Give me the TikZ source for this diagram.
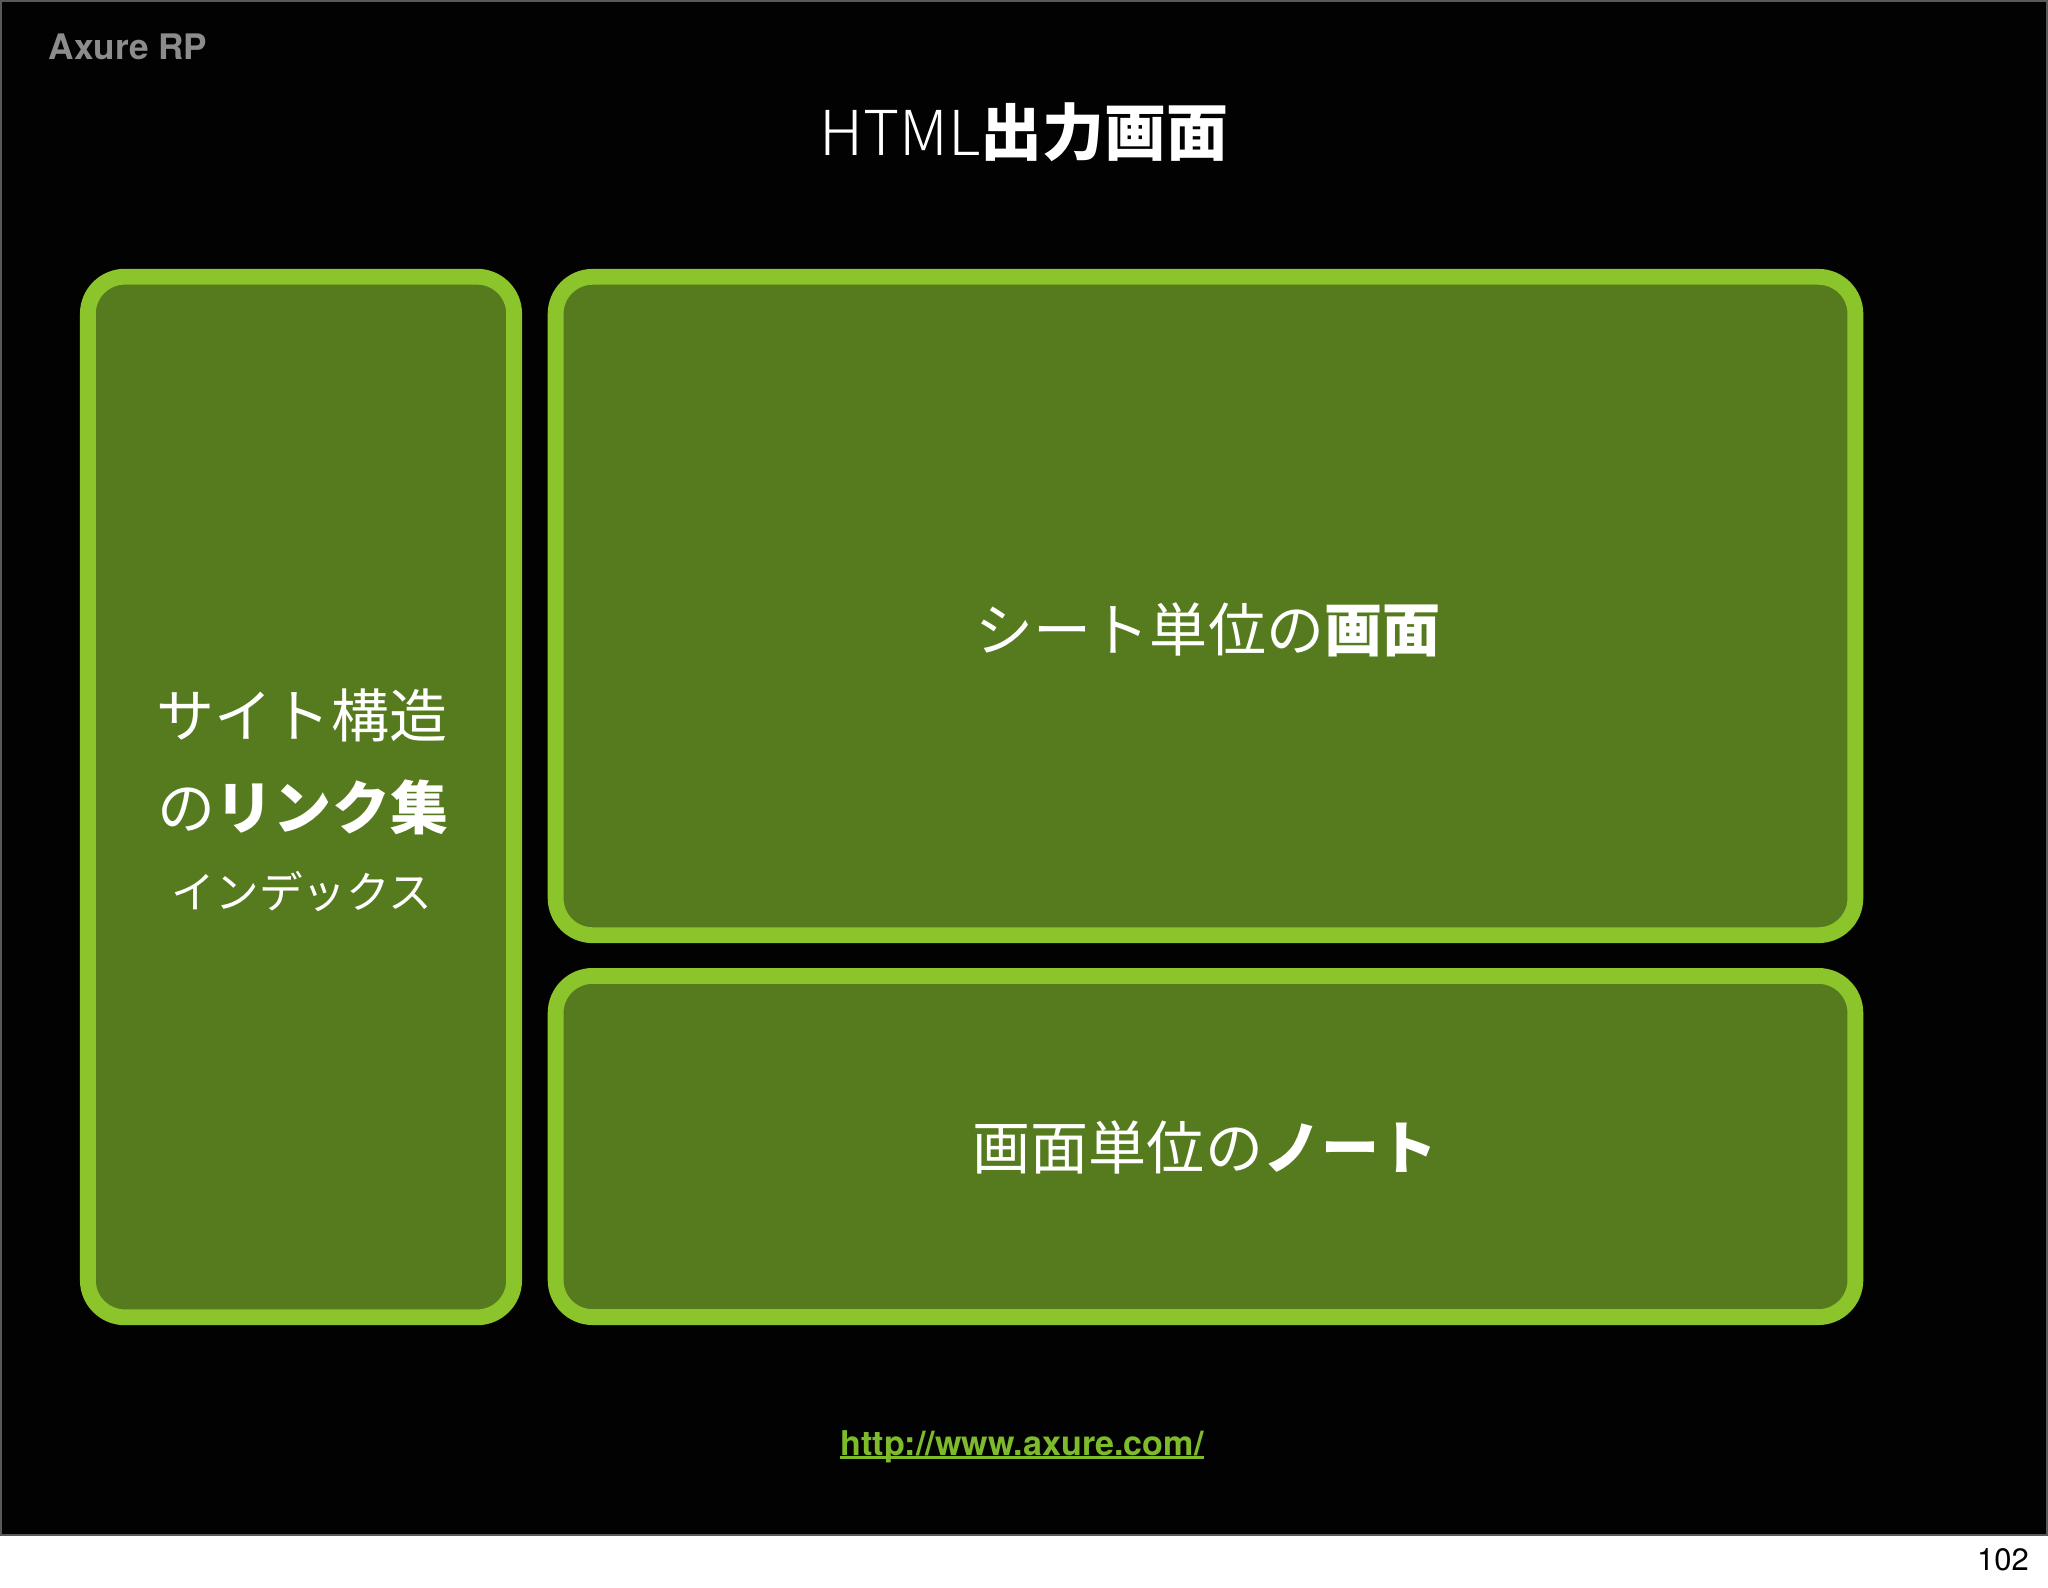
\documentclass[tikz,border=0pt]{standalone}
\usepackage{fontspec}
\setmainfont{TeX Gyre Heros}
\newfontfamily\jp{Noto Sans CJK JP}
\newfontfamily\jplight{Noto Sans CJK JP Light}
\definecolor{slide}{HTML}{020203}
\definecolor{lime}{HTML}{8BC52B}
\definecolor{olive}{HTML}{567A1E}
\definecolor{urlgreen}{HTML}{7DBB2A}
\definecolor{labelgray}{HTML}{8C8C8C}
\tikzset{
  panel/.style={draw=lime, fill=olive, line width=4.5pt, rounded corners=0.37cm, inner sep=0pt},
  jtext/.style={text=white, font=\jp\fontsize{16.5}{19}\selectfont, inner sep=0pt},
}

\begin{document}
\begin{tikzpicture}[x=0.01cm, y=-0.01cm]
        \useasboundingbox (0,0) rectangle (2048,1587);
        \fill[white] (0,0) rectangle (2048,1587);
        \draw[fill=slide, draw=gray!70!black, line width=0.6pt] (0.5,0.5) rectangle (2047.5,1535);
        \node[text=labelgray, font=\bfseries\fontsize{10}{12}\selectfont, inner sep=0pt] (brand) at (128,47) {Axure RP};
        \node[text=white, font=\fontsize{17.6}{20}\selectfont, inner sep=0pt] (title) at (1024,132) {{\jplight HTML}{\jp\bfseries 出力画面}};
        \node[panel, minimum width=4.26cm, minimum height=10.4cm] (index) at (301,797) {};
        \node[panel, minimum width=12.99cm, minimum height=6.58cm] (screen) at (1205.5,606) {};
        \node[panel, minimum width=12.99cm, minimum height=3.41cm] (notes) at (1205.5,1146.5) {};
        \node[jtext] (site) at (302,715) {サイト構造};
        \node[jtext] (links) at (303,807) {の\textbf{リンク集}};
        \node[jtext, font=\jp\fontsize{12.4}{14}\selectfont] (idx) at (302,892) {インデックス};
        \node[jtext] (sheet) at (1208,630) {シート単位の\textbf{画面}};
        \node[jtext] (note) at (1205,1147) {画面単位の\textbf{ノート}};
        \node[text=urlgreen, font=\bfseries\fontsize{9.7}{12}\selectfont, inner sep=0pt, anchor=base] (url) at (1022,1455) {http://www.axure.com/};
        \draw[urlgreen, line width=0.6pt] ([yshift=-0.025cm]url.base west) -- ([yshift=-0.025cm]url.base east);
        \node[font=\fontsize{8.8}{10}\selectfont, inner sep=0pt] (page) at (2003,1560) {102};
    \end{tikzpicture}
\end{document}
